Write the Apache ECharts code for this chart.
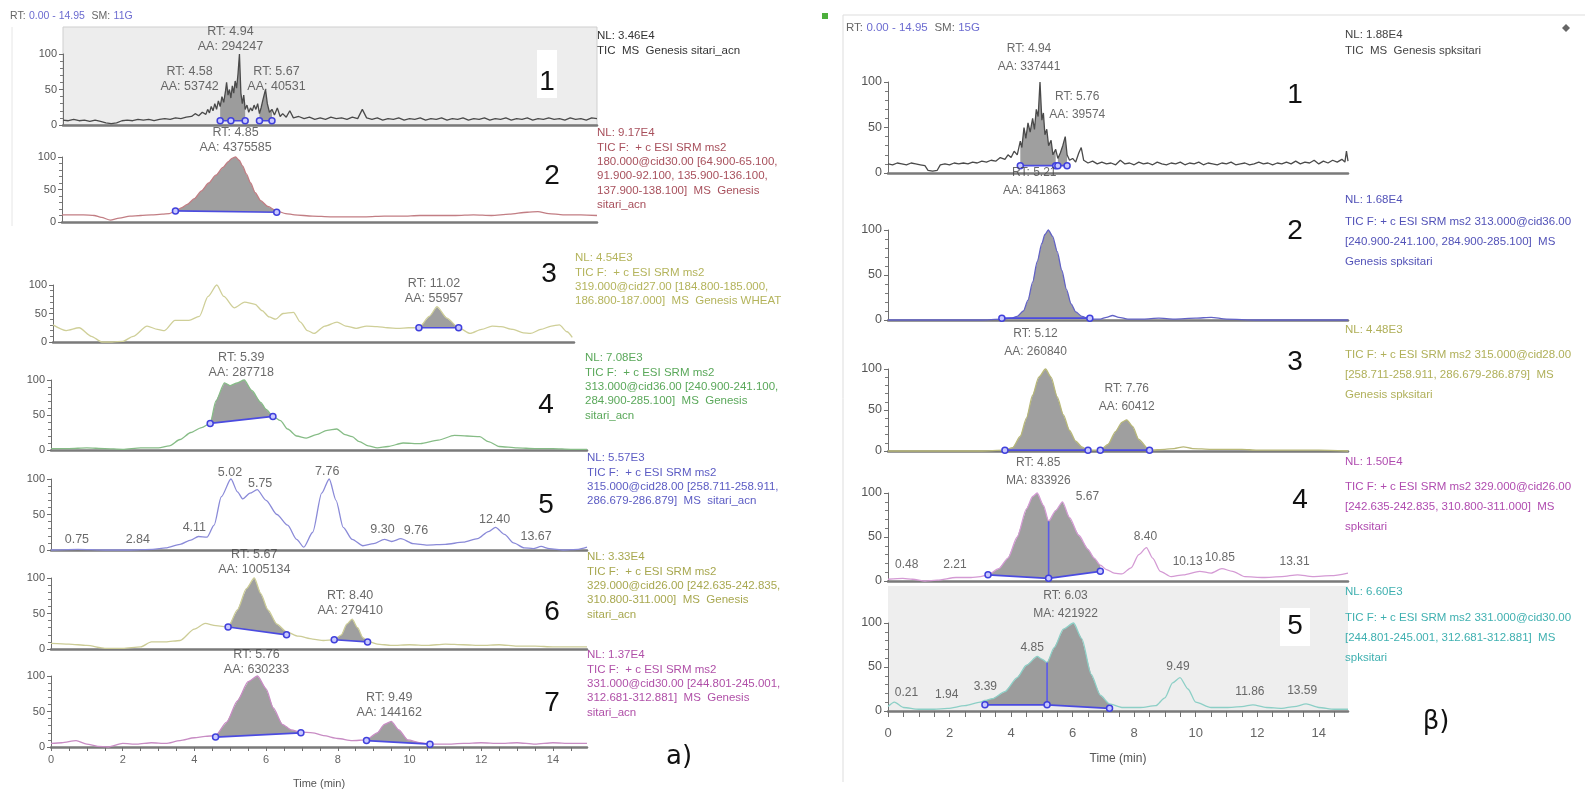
<!DOCTYPE html>
<html>
<head>
<meta charset="utf-8">
<title>Chromatograms</title>
<script src="https://cdn.jsdelivr.net/npm/echarts@6/dist/echarts.min.js"></script>
<style>
  html, body { margin: 0; padding: 0; background: #ffffff; }
  #chart { width: 1585px; height: 793px; }
</style>
</head>
<body>
<div id="chart"></div>
<script>
// ---------- chromatogram traces: [time (min), relative abundance %] ----------
const traceA1 = [[0,7],[0.15,6],[0.3,8],[0.45,6],[0.6,7],[0.75,5],[0.9,7],[1.05,5],[1.2,3],[1.35,2],[1.5,3],[1.65,6],[1.8,7],[1.95,6],[2.1,8],[2.25,7],[2.4,8],[2.55,6],[2.7,8],[2.85,9],[3.0,8],[3.15,10],[3.3,9],[3.45,11],[3.6,12],[3.7,16],[3.8,13],[3.9,18],[4.0,15],[4.05,22],[4.1,17],[4.15,26],[4.2,20],[4.25,30],[4.3,22],[4.35,34],[4.4,26],[4.45,40],[4.5,32],[4.55,48],[4.58,60],[4.62,42],[4.66,50],[4.7,38],[4.74,55],[4.78,45],[4.82,62],[4.86,52],[4.9,72],[4.94,100],[4.98,45],[5.02,30],[5.06,42],[5.1,22],[5.15,28],[5.2,18],[5.25,24],[5.3,20],[5.35,28],[5.4,22],[5.45,30],[5.5,16],[5.55,25],[5.6,36],[5.67,50],[5.72,30],[5.78,18],[5.85,22],[5.92,14],[6.0,24],[6.08,12],[6.15,16],[6.25,11],[6.35,20],[6.45,10],[6.6,12],[6.75,9],[6.9,11],[7.05,8],[7.2,10],[7.35,8],[7.5,11],[7.65,9],[7.8,10],[7.95,8],[8.1,11],[8.25,9],[8.38,22],[8.5,10],[8.65,8],[8.8,10],[8.95,7],[9.1,9],[9.25,8],[9.4,10],[9.55,7],[9.7,9],[9.85,8],[10.0,10],[10.15,7],[10.3,9],[10.45,8],[10.6,10],[10.75,7],[10.9,9],[11.05,8],[11.2,10],[11.35,7],[11.5,9],[11.65,8],[11.8,10],[11.95,7],[12.1,9],[12.25,8],[12.4,10],[12.55,7],[12.7,9],[12.85,8],[13.0,10],[13.15,7],[13.3,9],[13.45,8],[13.6,10],[13.75,8],[13.9,9],[14.05,7],[14.2,10],[14.35,8],[14.5,9],[14.65,7],[14.8,10],[14.95,9]];
const traceA2 = [[0,11],[0.3,11],[0.6,11],[0.9,10],[1.1,7],[1.35,3],[1.6,6],[1.9,9],[2.2,10],[2.5,11],[2.8,12],[3.0,13],[3.17,17],[3.35,22],[3.5,27],[3.7,36],[3.9,48],[4.1,60],[4.3,72],[4.5,84],[4.65,93],[4.75,98],[4.85,100],[4.95,95],[5.05,86],[5.15,74],[5.27,60],[5.4,45],[5.55,33],[5.75,24],[6.0,17],[6.25,13],[6.5,11],[7.0,9],[7.5,8],[8.0,8],[8.5,8],[9.0,9],[9.5,9],[10.0,10],[10.5,10],[11.0,10],[11.5,11],[12.0,10],[12.5,12],[13.0,15],[13.3,16],[13.6,13],[14.0,11],[14.5,11],[14.95,10]];
const traceA3 = [[0,30],[0.38,20],[0.75,25],[1.1,10],[1.4,0],[1.7,0],[2.0,1],[2.3,10],[2.7,28],[3.0,22],[3.2,20],[3.5,38],[3.9,38],[4.2,45],[4.45,80],[4.7,100],[4.9,80],[5.2,60],[5.5,70],[5.8,66],[6.0,55],[6.2,44],[6.39,40],[6.6,50],[6.9,52],[7.1,35],[7.3,20],[7.49,15],[7.8,28],[8.15,35],[8.4,28],[8.7,24],[9.0,28],[9.3,27],[9.6,25],[9.9,24],[10.2,25],[10.5,25],[10.8,45],[11.02,62],[11.3,42],[11.64,25],[11.97,15],[12.3,22],[12.6,28],[12.85,27],[13.2,22],[13.5,16],[13.7,15],[14.0,22],[14.3,28],[14.53,30],[14.75,18],[14.9,8]];
const traceA4 = [[0,2],[0.5,2],[1.0,3],[1.5,2],[2.0,1],[2.5,3],[3.0,3],[3.3,6],[3.6,15],[3.9,25],[4.2,32],[4.44,38],[4.6,70],[4.84,96],[5.0,92],[5.2,96],[5.39,100],[5.6,85],[5.85,68],[6.0,58],[6.19,48],[6.4,42],[6.6,30],[6.85,20],[7.12,17],[7.4,22],[7.7,28],[7.97,30],[8.2,22],[8.4,19],[8.6,12],[8.85,6],[9.1,3],[9.4,5],[9.82,10],[10.3,9],[10.8,14],[11.25,21],[11.6,20],[11.96,19],[12.2,12],[12.5,5],[13.0,3],[13.5,2],[14.0,2],[14.5,1],[14.95,1]];
const traceA5 = [[0,0],[0.75,1],[1.5,0],[2.2,0],[2.84,1],[3.2,3],[3.6,8],[3.9,14],[4.11,19],[4.35,18],[4.55,35],[4.75,75],[5.02,100],[5.2,82],[5.35,72],[5.55,80],[5.75,85],[6.0,70],[6.3,50],[6.6,35],[6.85,15],[7.05,4],[7.3,25],[7.55,80],[7.76,100],[7.95,70],[8.15,32],[8.4,15],[8.7,6],[9.0,9],[9.3,15],[9.5,12],[9.76,16],[10.1,9],[10.5,7],[11.0,8],[11.5,11],[11.9,16],[12.2,26],[12.4,32],[12.65,22],[12.9,10],[13.2,3],[13.45,2],[13.67,5],[13.9,2],[14.3,0],[14.7,1],[14.95,4]];
const traceA6 = [[0,8],[0.5,7],[1.0,5],[1.5,1],[2.0,1],[2.5,3],[2.8,10],[3.2,10],[3.6,12],[4.0,28],[4.3,36],[4.6,33],[4.94,31],[5.2,55],[5.45,85],[5.67,100],[5.85,78],[6.05,55],[6.3,35],[6.57,24],[6.9,18],[7.3,14],[7.6,12],[7.9,13],[8.1,20],[8.25,35],[8.4,42],[8.55,30],[8.7,16],[8.83,11],[9.1,7],[9.5,5],[10.0,6],[10.5,5],[11.0,7],[11.5,6],[12.0,5],[12.5,6],[13.0,4],[13.5,4],[14.0,3],[14.5,3],[14.95,3]];
const traceA7 = [[0,5],[0.3,6],[0.7,9],[1.0,4],[1.3,1],[1.6,0],[2.0,5],[2.4,4],[2.8,6],[3.2,5],[3.6,9],[4.0,13],[4.3,15],[4.59,16],[4.9,35],[5.2,65],[5.5,92],[5.76,100],[6.0,82],[6.2,55],[6.45,32],[6.7,24],[6.97,21],[7.3,20],[7.6,16],[8.0,12],[8.4,9],[8.8,10],[9.1,20],[9.3,32],[9.49,36],[9.7,24],[9.95,10],[10.3,6],[10.57,4],[11.0,4],[11.5,5],[12.0,6],[12.5,5],[13.0,6],[13.5,4],[14.0,6],[14.5,5],[14.95,5]];

const traceB1 = [[0,10],[0.15,9],[0.3,11],[0.45,10],[0.6,9],[0.75,11],[0.9,10],[1.05,9],[1.2,8],[1.3,3],[1.45,2],[1.6,3],[1.7,9],[1.85,10],[2.0,9],[2.15,11],[2.3,10],[2.45,11],[2.6,10],[2.75,12],[2.9,11],[3.05,13],[3.2,12],[3.35,14],[3.5,13],[3.65,17],[3.8,15],[3.9,20],[4.0,17],[4.1,24],[4.2,20],[4.3,35],[4.35,28],[4.42,50],[4.48,38],[4.55,55],[4.62,45],[4.7,60],[4.76,48],[4.82,70],[4.88,62],[4.94,100],[5.0,58],[5.05,66],[5.1,42],[5.16,48],[5.22,30],[5.3,36],[5.36,20],[5.45,26],[5.52,16],[5.6,22],[5.68,30],[5.76,40],[5.82,20],[5.9,14],[6.0,16],[6.1,12],[6.2,22],[6.28,28],[6.36,14],[6.5,11],[6.65,13],[6.8,10],[6.95,12],[7.1,10],[7.25,11],[7.4,9],[7.55,14],[7.7,10],[7.85,11],[8.0,9],[8.15,12],[8.3,10],[8.45,11],[8.6,9],[8.75,12],[8.9,10],[9.05,9],[9.2,11],[9.35,10],[9.5,12],[9.65,9],[9.8,11],[9.95,10],[10.1,12],[10.25,9],[10.4,11],[10.55,10],[10.7,9],[10.85,11],[11.0,10],[11.15,12],[11.3,9],[11.45,10],[11.6,11],[11.75,9],[11.9,10],[12.05,12],[12.2,10],[12.35,11],[12.5,9],[12.65,11],[12.8,10],[12.95,12],[13.1,10],[13.25,13],[13.4,10],[13.55,12],[13.7,11],[13.85,14],[14.0,10],[14.15,13],[14.3,11],[14.45,14],[14.6,12],[14.75,15],[14.85,12],[14.9,24],[14.95,13]];
const traceB2 = [[0,0],[1,0],[2,0],[3,0],[3.7,1],[4.0,2],[4.2,4],[4.4,10],[4.55,22],[4.7,42],[4.85,65],[5.0,85],[5.1,95],[5.21,100],[5.35,93],[5.5,76],[5.65,55],[5.8,34],[5.95,18],[6.1,9],[6.3,4],[6.56,1],[6.9,1],[7.1,3],[7.3,5],[7.5,3],[7.8,1],[8.3,1],[8.8,2],[9.3,1],[10.0,2],[10.5,3],[11.0,1],[12,0],[13,0],[14,0],[14.95,0]];
const traceB3 = [[0,0],[1,0],[2,0],[3,0],[3.8,1],[4.05,4],[4.3,18],[4.5,40],[4.7,68],[4.9,90],[5.12,100],[5.3,90],[5.5,66],[5.7,44],[5.9,25],[6.1,12],[6.3,5],[6.5,1],[6.9,1],[7.15,8],[7.4,24],[7.6,35],[7.76,38],[7.95,30],[8.15,14],[8.5,1],[9.0,2],[9.3,3],[9.6,5],[9.9,3],[10.5,2],[11.0,2],[11.5,2],[12,1],[13,1],[14,1],[14.95,0]];
const traceB4 = [[0,2],[0.48,3],[0.8,2],[1.2,0],[1.6,1],[2.21,4],[2.7,4],[3.0,5],[3.25,7],[3.6,14],[3.9,26],[4.2,50],[4.5,82],[4.7,96],[4.85,100],[5.05,86],[5.22,68],[5.45,80],[5.67,90],[5.9,72],[6.2,52],[6.5,36],[6.7,26],[6.9,18],[7.1,13],[7.35,9],[7.6,8],[7.9,15],[8.15,30],[8.4,38],[8.6,26],[8.85,11],[9.2,5],[9.6,7],[10.13,11],[10.5,9],[10.85,14],[11.2,11],[11.6,5],[12.2,4],[12.8,5],[13.31,7],[13.8,5],[14.4,6],[14.95,9]];
const traceB5 = [[0,5],[0.21,10],[0.5,4],[1.0,2],[1.5,2],[1.94,3],[2.5,6],[3.0,10],[3.15,12],[3.39,14],[3.8,22],[4.2,38],[4.5,52],[4.85,62],[5.0,59],[5.17,55],[5.4,72],[5.7,93],[6.03,100],[6.3,82],[6.6,42],[6.9,18],[7.2,8],[7.6,4],[8.2,4],[8.7,6],[9.0,15],[9.25,32],[9.49,38],[9.75,25],[10.0,10],[10.5,4],[11.0,4],[11.5,5],[11.86,7],[12.3,4],[12.8,3],[13.2,5],[13.59,8],[14.0,4],[14.5,2],[14.95,2]];

// ---------- integration baselines (one polyline per integrated peak) ----------
const baseA1 = [[[4.4,6],[4.7,6],[5.1,6]], [[5.5,6],[5.85,6]]];
const baseA2 = [[[3.17,17],[6.0,15]]];
const baseA3 = [[[10.5,25],[11.64,25]]];
const baseA4 = [[[4.44,38],[6.19,48]]];
const baseA5 = [];
const baseA6 = [[[4.94,31],[6.57,20]], [[7.9,13],[8.83,10]]];
const baseA7 = [[[4.59,14],[6.97,20]], [[8.8,9],[10.57,4]]];
const baseB1 = [[[4.3,8],[5.45,8]], [[5.52,8],[5.82,8]]];
const baseB2 = [[[3.7,2],[6.56,2]]];
const baseB3 = [[[3.8,1],[6.5,1]], [[6.9,1],[8.5,1]]];
const baseB4 = [[[3.25,7],[5.22,3],[6.9,11]]];
const baseB5 = [[[3.15,7],[5.17,7],[7.2,3]]];

// valley drop lines splitting co-integrated peaks (time, min)
const dropsB4 = [5.22];
const dropsB5 = [5.17];

// ---------- peak annotations: [retention time, area, area tag] ----------
const peaksA1 = [[4.94, 294247, 'AA'], [4.58, 53742, 'AA'], [5.67, 40531, 'AA']];
const peaksA2 = [[4.85, 4375585, 'AA']];
const peaksA3 = [[11.02, 55957, 'AA']];
const peaksA4 = [[5.39, 287718, 'AA']];
const peaksA5 = [[0.75], [2.84], [4.11], [5.02], [5.75], [7.76], [9.30], [9.76], [12.40], [13.67]];
const peaksA6 = [[5.67, 1005134, 'AA'], [8.40, 279410, 'AA']];
const peaksA7 = [[5.76, 630233, 'AA'], [9.49, 144162, 'AA']];
const peaksB1 = [[4.94, 337441, 'AA'], [5.76, 39574, 'AA']];
const peaksB2 = [[5.21, 841863, 'AA']];
const peaksB3 = [[5.12, 260840, 'AA'], [7.76, 60412, 'AA']];
const peaksB4 = [[4.85, 833926, 'MA'], [5.67], [8.40], [10.13], [10.85], [13.31], [0.48], [2.21]];
const peaksB5 = [[6.03, 421922, 'MA'], [4.85], [9.49], [0.21], [1.94], [3.39], [11.86], [13.59]];

// ---------- trace descriptions ----------
const infoA1 = ['NL: 3.46E4', 'TIC  MS  Genesis sitari_acn'];
const infoA2 = ['NL: 9.17E4', 'TIC F:  + c ESI SRM ms2', '180.000@cid30.00 [64.900-65.100,', '91.900-92.100, 135.900-136.100,', '137.900-138.100]  MS  Genesis', 'sitari_acn'];
const infoA3 = ['NL: 4.54E3', 'TIC F:  + c ESI SRM ms2', '319.000@cid27.00 [184.800-185.000,', '186.800-187.000]  MS  Genesis WHEAT'];
const infoA4 = ['NL: 7.08E3', 'TIC F:  + c ESI SRM ms2', '313.000@cid36.00 [240.900-241.100,', '284.900-285.100]  MS  Genesis', 'sitari_acn'];
const infoA5 = ['NL: 5.57E3', 'TIC F:  + c ESI SRM ms2', '315.000@cid28.00 [258.711-258.911,', '286.679-286.879]  MS  sitari_acn'];
const infoA6 = ['NL: 3.33E4', 'TIC F:  + c ESI SRM ms2', '329.000@cid26.00 [242.635-242.835,', '310.800-311.000]  MS  Genesis', 'sitari_acn'];
const infoA7 = ['NL: 1.37E4', 'TIC F:  + c ESI SRM ms2', '331.000@cid30.00 [244.801-245.001,', '312.681-312.881]  MS  Genesis', 'sitari_acn'];
const infoB1 = ['NL: 1.88E4', 'TIC  MS  Genesis spksitari'];
const infoB2 = ['NL: 1.68E4', 'TIC F: + c ESI SRM ms2 313.000@cid36.00', '[240.900-241.100, 284.900-285.100]  MS', 'Genesis spksitari'];
const infoB3 = ['NL: 4.48E3', 'TIC F: + c ESI SRM ms2 315.000@cid28.00', '[258.711-258.911, 286.679-286.879]  MS', 'Genesis spksitari'];
const infoB4 = ['NL: 1.50E4', 'TIC F: + c ESI SRM ms2 329.000@cid26.00', '[242.635-242.835, 310.800-311.000]  MS', 'spksitari'];
const infoB5 = ['NL: 6.60E3', 'TIC F: + c ESI SRM ms2 331.000@cid30.00', '[244.801-245.001, 312.681-312.881]  MS', 'spksitari'];

const headerA = ['0.00 - 14.95', '11G'];
const headerB = ['0.00 - 14.95', '15G'];
const panelNumbersA = ['1', '2', '3', '4', '5', '6', '7'];
const panelNumbersB = ['1', '2', '3', '4', '5'];

// axis ticks
const xTickLabels = [0, 2, 4, 6, 8, 10, 12, 14];
const xTickMarks = [0,0.5,1,1.5,2,2.5,3,3.5,4,4.5,5,5.5,6,6.5,7,7.5,8,8.5,9,9.5,10,10.5,11,11.5,12,12.5,13,13.5,14,14.5];
const timeMax = 14.95;

// ---------- layout and styling ----------
const FONT = '"Liberation Sans", Arial, sans-serif';
const panels = [
  { trace: traceA1, base: baseA1, drops: [], peaks: peaksA1, info: infoA1, side: 'L', grid: [63, 54, 534, 71], line: '#4a4a4a', text: '#333333', infoAt: [597, 29], offs: [[-9,0],[-37,12],[11,5]] },
  { trace: traceA2, base: baseA2, drops: [], peaks: peaksA2, info: infoA2, side: 'L', grid: [62, 157, 535, 65], line: '#c27e84', text: '#a8505c', infoAt: [597, 126], offs: [[0,-2]] },
  { trace: traceA3, base: baseA3, drops: [], peaks: peaksA3, info: infoA3, side: 'L', grid: [53, 285, 521, 57], line: '#cfcf98', text: '#b4b45c', infoAt: [575, 251], offs: [[-3,-1]] },
  { trace: traceA4, base: baseA4, drops: [], peaks: peaksA4, info: infoA4, side: 'L', grid: [51, 380, 536, 70], line: '#86bc86', text: '#5aa85a', infoAt: [585, 351], offs: [[-3,0]] },
  { trace: traceA5, base: baseA5, drops: [], peaks: peaksA5, info: infoA5, side: 'L', grid: [51, 479, 536, 71], line: '#8a8ad8', text: '#5c5cc4', infoAt: [587, 451], offs: [[-1,-2],[-15,-2],[-4,-1],[-1,1],[3,1],[-2,0],[-2,-2],[15,-1],[-1,0],[-5,-2]] },
  { trace: traceA6, base: baseA6, drops: [], peaks: peaksA6, info: infoA6, side: 'L', grid: [51, 578, 536, 71], line: '#cccc96', text: '#a8a850', infoAt: [587, 550], offs: [[0,-1],[-2,-1]] },
  { trace: traceA7, base: baseA7, drops: [], peaks: peaksA7, info: infoA7, side: 'L', grid: [51, 676, 536, 71], line: '#c88cc4', text: '#b050a8', infoAt: [587, 648], offs: [[-1,1],[-2,-1]], bottom: true },
  { trace: traceB1, base: baseB1, drops: [], peaks: peaksB1, info: infoB1, side: 'R', grid: [888, 82, 460, 91], line: '#4a4a4a', text: '#444444', infoAt: [1345, 28], gap: 13, offs: [[-11,-6],[12,-13]] },
  { trace: traceB2, base: baseB2, drops: [], peaks: peaksB2, info: infoB2, side: 'R', grid: [888, 230, 460, 90], line: '#6262c6', text: '#5252b8', infoAt: [1345, 193], gap: 19, offs: [[-14,-30]] },
  { trace: traceB3, base: baseB3, drops: [], peaks: peaksB3, info: infoB3, side: 'R', grid: [888, 369, 460, 82], line: '#b8b878', text: '#b0b05a', infoAt: [1345, 323], gap: 22, offs: [[-10,-8],[0,-4]] },
  { trace: traceB4, base: baseB4, drops: dropsB4, peaks: peaksB4, info: infoB4, side: 'R', grid: [888, 493, 460, 88], line: '#d49ad4', text: '#b04cb0', infoAt: [1345, 455], gap: 22, offs: [[1,-3],[25,4],[-1,-2],[-12,-1],[-2,-2],[-3,-4],[4,-5],[-1,-4]] },
  { trace: traceB5, base: baseB5, drops: dropsB5, peaks: peaksB5, info: infoB5, side: 'R', grid: [888, 623, 460, 88], line: '#8ccfc6', text: '#3fb0b0', infoAt: [1345, 585], gap: 23, offs: [[-8,0],[-5,0],[-2,-2],[12,-1],[-1,-5],[-7,-3],[-3,-4],[-4,-4]], bottom: true }
];

function valueAt(trace, t) {
  const p = trace.find(q => Math.abs(q[0] - t) < 1e-9);
  return p ? p[1] : 0;
}
function peakText(p) {
  return p.length > 1 ? 'RT: ' + p[0].toFixed(2) + '\n' + p[2] + ': ' + p[1] : p[0].toFixed(2);
}

const grids = [], xAxes = [], yAxes = [], series = [];
panels.forEach((pn, i) => {
  const right = pn.side === 'R';
  grids.push({ left: pn.grid[0], top: pn.grid[1], width: pn.grid[2], height: pn.grid[3] });
  const xa = {
    gridIndex: i, type: 'value', min: 0, max: timeMax,
    axisLine: { show: true, onZero: false, lineStyle: { color: '#7a7a7a', width: 2.5 } },
    axisTick: { show: false }, axisLabel: { show: false }, splitLine: { show: false }
  };
  if (pn.bottom) {
    xa.axisTick = { show: true, customValues: xTickMarks, length: right ? 6 : 4, lineStyle: { color: '#707070' } };
    xa.axisLabel = { show: true, customValues: xTickLabels, color: '#666', fontFamily: FONT, fontSize: right ? 13 : 11, margin: right ? 16 : 7 };
    xa.name = 'Time (min)';
    xa.nameLocation = 'middle';
    xa.nameGap = right ? 42 : 31;
    xa.nameTextStyle = { color: '#555', fontFamily: FONT, fontSize: right ? 12 : 11 };
  }
  xAxes.push(xa);
  yAxes.push({
    gridIndex: i, type: 'value', min: 0, max: 100, interval: 50,
    axisLine: { show: true, lineStyle: { color: '#6e6e6e', width: 1 } },
    axisTick: { show: true, length: 4, lineStyle: { color: '#6e6e6e' } },
    minorTick: { show: true, splitNumber: 5, length: 3, lineStyle: { color: '#7a7a7a' } },
    axisLabel: { color: '#555', fontFamily: FONT, fontSize: right ? 12.5 : 11, margin: 6 },
    splitLine: { show: false }, minorSplitLine: { show: false }
  });

  // shaded integrated area between the trace and its baseline
  pn.base.forEach(seg => {
    const t0 = seg[0][0], t1 = seg[seg.length - 1][0];
    series.push({
      type: 'custom', xAxisIndex: i, yAxisIndex: i, silent: true, z: 1, clip: false,
      data: [[t0, seg[0][1]]],
      renderItem: (params, api) => {
        const pts = pn.trace.filter(p => p[0] >= t0 - 1e-9 && p[0] <= t1 + 1e-9).map(p => api.coord(p));
        for (let k = seg.length - 1; k >= 0; k--) pts.push(api.coord(seg[k]));
        return { type: 'polygon', shape: { points: pts }, style: { fill: 'rgba(138,138,138,0.82)' } };
      }
    });
  });

  // the chromatogram trace
  series.push({
    type: 'line', xAxisIndex: i, yAxisIndex: i, data: pn.trace, showSymbol: false, silent: true,
    smooth: (pn === panels[0] || pn === panels[7]) ? false : 0.25, smoothMonotone: 'x',
    clip: false, z: 2, lineStyle: { color: pn.line, width: 1.3 }
  });

  // integration baselines with end markers
  pn.base.forEach(seg => {
    series.push({
      type: 'line', xAxisIndex: i, yAxisIndex: i, data: seg, silent: true, clip: false, z: 3,
      symbol: 'circle', symbolSize: 6, showSymbol: true,
      lineStyle: { color: '#4b4be0', width: 1.7 },
      itemStyle: { color: '#c9c9ff', borderColor: '#4040dc', borderWidth: 1.5 }
    });
  });

  // drop lines at valleys
  pn.drops.forEach(t => {
    let b = 0;
    pn.base.forEach(seg => seg.forEach(p => { if (Math.abs(p[0] - t) < 1e-9) b = p[1]; }));
    series.push({
      type: 'line', xAxisIndex: i, yAxisIndex: i, data: [[t, b], [t, valueAt(pn.trace, t)]],
      silent: true, clip: false, z: 3, showSymbol: false, lineStyle: { color: '#5a5ae8', width: 1.6 }
    });
  });

  // peak annotations
  series.push({
    type: 'scatter', xAxisIndex: i, yAxisIndex: i, symbolSize: 0, silent: true, z: 6, clip: false,
    data: pn.peaks.map((p, k) => ({
      value: [p[0], valueAt(pn.trace, p[0])],
      name: peakText(p),
      label: { offset: pn.offs[k] || [0, 0] }
    })),
    label: {
      show: true, position: 'top', distance: 0, formatter: '{b}', align: 'center',
      color: '#454545', fontFamily: FONT, fontSize: right ? 12 : 12.5, lineHeight: right ? 18 : 15
    }
  });
});

// ---------- static decorations and text ----------
const graphic = [
  // shaded plot backgrounds
  { type: 'rect', shape: { x: 63, y: 27, width: 534, height: 98 }, style: { fill: '#ededed', stroke: '#cfcfcf', lineWidth: 1 }, z: -10, silent: true },
  { type: 'rect', shape: { x: 888, y: 586, width: 460, height: 125 }, style: { fill: '#eeeeee' }, z: -10, silent: true },
  { type: 'rect', shape: { x: 537, y: 50, width: 20, height: 48 }, style: { fill: '#ffffff' }, z: -5, silent: true },
  { type: 'rect', shape: { x: 1280, y: 608, width: 30, height: 38 }, style: { fill: '#ffffff' }, z: -5, silent: true },
  // frames
  { type: 'line', shape: { x1: 12, y1: 27, x2: 12, y2: 226 }, style: { stroke: '#e6e6e6', lineWidth: 1 }, silent: true },
  { type: 'polyline', shape: { points: [[843, 782], [843, 15], [1585, 15]] }, style: { stroke: '#dddddd', lineWidth: 1, fill: null }, silent: true },
  { type: 'rect', shape: { x: 822, y: 13, width: 6, height: 6 }, style: { fill: '#4caf3c' }, silent: true },
  { type: 'polygon', shape: { points: [[1566, 24], [1570, 28], [1566, 32], [1562, 28]] }, style: { fill: '#666666' }, silent: true },
  // run headers
  { type: 'text', x: 10, y: 16, silent: true, style: {
      text: '{a|RT:} {b|' + headerA[0] + '}  {a|SM:} {b|' + headerA[1] + '}', textVerticalAlign: 'middle',
      rich: { a: { fill: '#666', fontFamily: FONT, fontSize: 10.5 }, b: { fill: '#6b6bd0', fontFamily: FONT, fontSize: 10.5 } } } },
  { type: 'text', x: 846, y: 28, silent: true, style: {
      text: '{a|RT:} {b|' + headerB[0] + '}  {a|SM:} {b|' + headerB[1] + '}', textVerticalAlign: 'middle',
      rich: { a: { fill: '#666', fontFamily: FONT, fontSize: 11.5 }, b: { fill: '#6b6bd0', fontFamily: FONT, fontSize: 11.5 } } } },
  // sub-figure tags
  { type: 'text', x: 679, y: 757, silent: true, style: { text: 'a)', fill: '#111', fontFamily: '"DejaVu Sans", sans-serif', fontSize: 26, textAlign: 'center', textVerticalAlign: 'middle' } },
  { type: 'text', x: 1436, y: 722, silent: true, style: { text: 'β)', fill: '#111', fontFamily: '"DejaVu Sans", sans-serif', fontSize: 26, textAlign: 'center', textVerticalAlign: 'middle' } }
];

const numPosA = [[547, 82], [552, 176], [549, 274], [546, 405], [546, 505], [552, 612], [552, 703]];
const numPosB = [[1295, 95], [1295, 231], [1295, 362], [1300, 500], [1295, 626]];
panelNumbersA.forEach((n, k) => graphic.push({ type: 'text', x: numPosA[k][0], y: numPosA[k][1], silent: true,
  style: { text: n, fill: '#111', fontFamily: FONT, fontSize: 28, textAlign: 'center', textVerticalAlign: 'middle' } }));
panelNumbersB.forEach((n, k) => graphic.push({ type: 'text', x: numPosB[k][0], y: numPosB[k][1], silent: true,
  style: { text: n, fill: '#111', fontFamily: FONT, fontSize: 28, textAlign: 'center', textVerticalAlign: 'middle' } }));

panels.forEach(pn => {
  if (pn.side === 'L') {
    graphic.push({ type: 'text', x: pn.infoAt[0], y: pn.infoAt[1], silent: true,
      style: { text: pn.info.join('\n'), fill: pn.text, fontFamily: FONT, fontSize: 11.5, lineHeight: 14.3 } });
  } else {
    graphic.push({ type: 'text', x: pn.infoAt[0], y: pn.infoAt[1], silent: true,
      style: { text: pn.info[0], fill: pn.text, fontFamily: FONT, fontSize: 11.5, lineHeight: 14 } });
    graphic.push({ type: 'text', x: pn.infoAt[0], y: pn.infoAt[1] + pn.gap, silent: true,
      style: { text: pn.info.slice(1).join('\n'), fill: pn.text, fontFamily: FONT, fontSize: 11.5, lineHeight: 20 } });
  }
});

const chart = echarts.init(document.getElementById('chart'), null, { renderer: 'canvas' });
chart.setOption({
  animation: false,
  backgroundColor: '#ffffff',
  grid: grids,
  xAxis: xAxes,
  yAxis: yAxes,
  series: series,
  graphic: graphic
});
</script>
</body>
</html>
